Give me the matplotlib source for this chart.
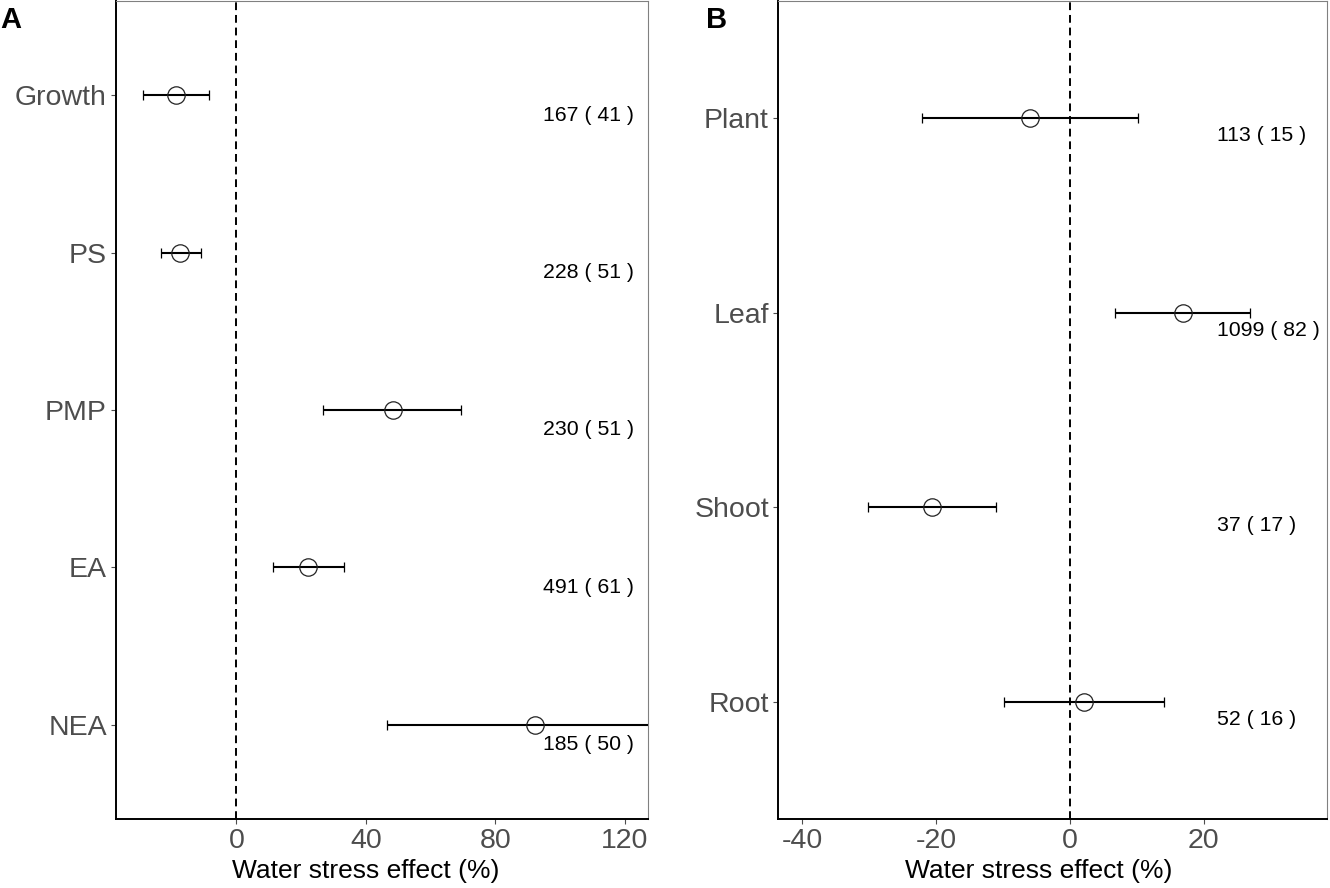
import numpy as np
import matplotlib
matplotlib.use("Agg")
import matplotlib.pyplot as plt

plt.rcParams['font.family'] = ['Liberation Sans', 'DejaVu Sans']
plt.rcParams['axes.unicode_minus'] = False

# Panel A data (top to bottom)
cats_a = ["Growth", "PS", "PMP", "EA", "NEA"]
mean_a = [-18.7, -17.4, 48.2, 22.2, 92.2]
low_a = [-29.0, -23.4, 26.8, 11.2, 46.5]
high_a = [-8.4, -11.0, 69.4, 33.2, 140.0]
labels_a = ["167 ( 41 )", "228 ( 51 )", "230 ( 51 )", "491 ( 61 )", "185 ( 50 )"]

# Panel B data (top to bottom)
cats_b = ["Plant", "Leaf", "Shoot", "Root"]
mean_b = [-6.0, 16.9, -20.6, 2.1]
low_b = [-22.1, 6.8, -30.1, -9.9]
high_b = [10.1, 26.9, -11.0, 14.0]
labels_b = ["113 ( 15 )", "1099 ( 82 )", "37 ( 17 )", "52 ( 16 )"]


def draw_panel(ax, cats, mean, low, high, labels, xlim, xticks, text_x, text_dy):
    n = len(cats)
    y = np.arange(n, 0, -1)
    mean = np.array(mean)
    xerr = [mean - np.array(low), np.array(high) - mean]
    ax.axvline(0, color='black', lw=1.4, dashes=(4, 2.5), zorder=1)
    ax.errorbar(mean, y, xerr=xerr, fmt='o', ms=12.5, mfc='none', mec='#222222',
                mew=0.9, ecolor='black', elinewidth=1.5, capsize=3.3, capthick=2.0,
                zorder=3)
    for yi, lab in zip(y, labels):
        ax.annotate(lab, (text_x, yi), xytext=(0, -text_dy), textcoords='offset points',
                    ha='left', va='baseline', fontsize=15.3, color='black')
    ax.set_xlim(*xlim)
    ax.set_ylim(0.4, n + 0.6)
    ax.set_xticks(xticks)
    ax.set_yticks(y)
    ax.set_yticklabels(cats)
    ax.tick_params(axis='both', labelsize=20.5, labelcolor='#4D4D4D', color='#4D4D4D',
                   length=3.5, width=0.8, pad=3)
    for side in ['left', 'bottom']:
        ax.spines[side].set_color('black')
        ax.spines[side].set_linewidth(1.4)
    for side in ['top', 'right']:
        ax.spines[side].set_color('#808080')
        ax.spines[side].set_linewidth(0.8)
    ax.set_xlabel("Water stress effect (%)", fontsize=19, color='black', va='center')


fig = plt.figure(figsize=(13.3, 8.88), dpi=100)
ax_a = fig.add_axes([116 / 1330, 1 - 819 / 888, 532 / 1330, 818 / 888])
ax_b = fig.add_axes([778 / 1330, 1 - 819 / 888, 549 / 1330, 818 / 888])

draw_panel(ax_a, cats_a, mean_a, low_a, high_a, labels_a,
           (-37.2, 127.1), [0, 40, 80, 120], 94.8, 18.2)
draw_panel(ax_b, cats_b, mean_b, low_b, high_b, labels_b,
           (-43.6, 38.4), [-40, -20, 0, 20], 22.0, 16.8)

ax_a.xaxis.set_label_coords(0.47, -0.063)
ax_b.xaxis.set_label_coords(0.475, -0.063)

fig.text(0.0, 1 - 6 / 888, "A", fontsize=21, fontweight='bold', va='top', ha='left')
fig.text(706 / 1330, 1 - 6 / 888, "B", fontsize=21, fontweight='bold', va='top', ha='left')

fig.savefig("out.png", dpi=100)
